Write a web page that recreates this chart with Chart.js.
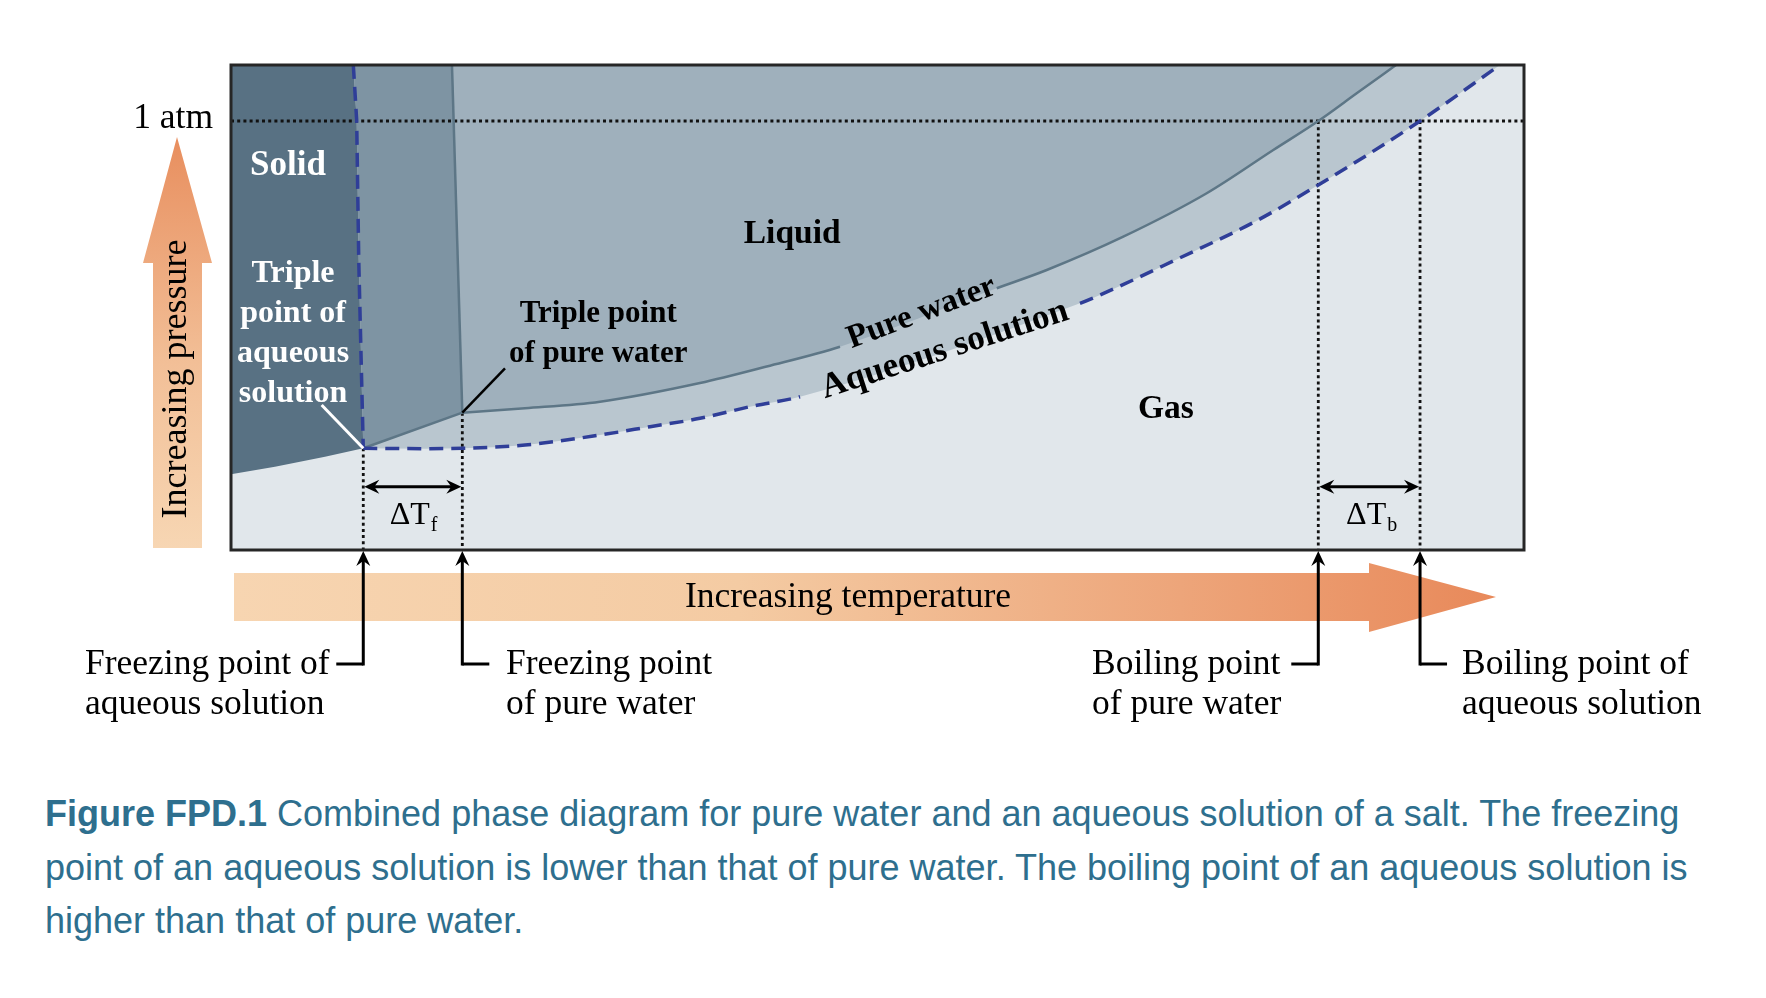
<!DOCTYPE html>
<html>
<head>
<meta charset="utf-8">
<title>Phase diagram - pure water vs aqueous solution</title>
<script src="https://cdn.jsdelivr.net/npm/chart.js@4/dist/chart.umd.min.js"></script>
<style>
    html, body { margin: 0; padding: 0; background: #fff; }
    #wrap { position: relative; width: 1766px; height: 998px; }
    #chartPhase { position: absolute; left: 0; top: 0; }
    #caption {
        position: absolute; left: 45px; top: 787px;
        font-family: "Liberation Sans", Arial, sans-serif;
        font-size: 36px; line-height: 53.5px; color: #2e6f8e;
        white-space: nowrap;
    }
</style>
</head>
<body>
<div id="wrap">
    <canvas id="chartPhase" width="1766" height="760"></canvas>
    <div id="caption"><b>Figure FPD.1</b> Combined phase diagram for pure water and an aqueous solution of a salt. The freezing<br>point of an aqueous solution is lower than that of pure water. The boiling point of an aqueous solution is<br>higher than that of pure water.</div>
</div>
<script>
// temperature and pressure are arbitrary units, the box runs 0..100 both ways
var oneAtm = 88.45;
var freezingPoints = [10.23, 17.89];   // aqueous solution, pure water
var boilingPoints = [84.09, 91.96];    // pure water, aqueous solution
var triplePressures = [20.97, 28.31];  // aqueous solution, pure water

// ice / vapour boundary up to the triple point of the solution
var solidEdgeT = [0, 3.4, 7.27, 10.23];
var solidEdgeP = [15.6, 17.18, 19.24, 20.97];

// solid / liquid boundaries
var aqFusionT = [9.46, 9.72, 9.88, 10.23];
var aqFusionP = [100, 88.66, 59.8, 20.97];
var pureFusionT = [17.09, 17.89];
var pureFusionP = [100, 28.31];

// liquid / vapour boundaries
var pureVapT = [17.89, 22.74, 28.54, 36.27, 41.43, 47.1, 59.22, 63.09, 69.01, 75.46, 80.61, 84.09, 87.06, 90.1];
var pureVapP = [28.31, 29.22, 30.58, 34.43, 37.84, 41.92, 53.96, 57.73, 64.6, 73.55, 82.47, 88.45, 94.16, 100];
var aqVapT = [10.23, 15.0, 17.89, 22.74, 28.54, 32.41, 36.27, 40.14, 44.01, 65.66, 67.21, 72.88, 79.33, 84.09, 87.96, 91.96, 98.14];
var aqVapP = [20.97, 20.9, 20.97, 21.65, 23.71, 25.42, 27.15, 29.55, 31.61, 50.87, 52.58, 59.6, 67.9, 75.26, 81.59, 88.45, 100];

// where the curve labels sit on the lines
var pureLabelGap = [47.1, 59.22];
var aqLabelGap = [44.01, 65.66];

var colSolid = '#587183';
var colMid = '#7e94a3';
var colLiquid = '#9fb0bc';
var colBand = '#b9c6cf';
var colGas = '#e1e7eb';
var colPure = '#5d7686';
var colAq = '#2f3e98';

function pts(xs, ys) {
    return xs.map(function (x, i) { return {x: x, y: ys[i]}; });
}

function gapSegment(gap, color) {
    return {
        borderColor: function (c) {
            return (c.p0.parsed.x === gap[0]) ? 'transparent' : color;
        }
    };
}

var aqFusionPts = pts(aqFusionT, aqFusionP);
var pureFusionPts = pts(pureFusionT, pureFusionP);
var solidEdgePts = pts(solidEdgeT, solidEdgeP);

var solidShape = [{x: 0, y: 100}].concat(aqFusionPts, solidEdgePts.slice(0, -1).reverse());
var midShape = aqFusionPts.concat(pureFusionPts.slice().reverse());
var liquidEdge = [pureFusionPts[0]].concat(pts(pureVapT, pureVapP));

function dotted(data) {
    return {
        data: data, borderColor: '#111', borderWidth: 2.8, borderDash: [3, 3.2],
        fill: false, tension: 0, order: 6
    };
}

var datasets = [
    {data: pts(aqVapT, aqVapP), fill: 'end', backgroundColor: colBand, borderWidth: 0,
        cubicInterpolationMode: 'monotone', order: 10},
    {data: liquidEdge, fill: 'end', backgroundColor: colLiquid, borderWidth: 0,
        cubicInterpolationMode: 'monotone', order: 9},
    {data: midShape, fill: 'shape', backgroundColor: colMid, borderWidth: 0, tension: 0, order: 8},
    {data: solidShape, fill: 'shape', backgroundColor: colSolid, borderWidth: 0, tension: 0, order: 7},

    dotted([{x: 0, y: oneAtm}, {x: 100, y: oneAtm}]),
    dotted([{x: freezingPoints[0], y: triplePressures[0]}, {x: freezingPoints[0], y: 0}]),
    dotted([{x: freezingPoints[1], y: triplePressures[1]}, {x: freezingPoints[1], y: 0}]),
    dotted([{x: boilingPoints[0], y: oneAtm}, {x: boilingPoints[0], y: 0}]),
    dotted([{x: boilingPoints[1], y: oneAtm}, {x: boilingPoints[1], y: 0}]),

    {data: [solidEdgePts[solidEdgePts.length - 1], pureFusionPts[1]], borderColor: colPure,
        borderWidth: 2.5, fill: false, tension: 0, order: 4},
    {data: pureFusionPts, borderColor: colPure, borderWidth: 2.5, fill: false, tension: 0, order: 4},
    {data: pts(pureVapT, pureVapP), borderColor: colPure, borderWidth: 2.5, fill: false,
        cubicInterpolationMode: 'monotone', segment: gapSegment(pureLabelGap, colPure), order: 4},
    {data: aqFusionPts, borderColor: colAq, borderWidth: 3.5, borderDash: [14, 8], fill: false,
        tension: 0, order: 3},
    {data: pts(aqVapT, aqVapP), borderColor: colAq, borderWidth: 3.5, borderDash: [14, 8], fill: false,
        cubicInterpolationMode: 'monotone', segment: gapSegment(aqLabelGap, colAq), order: 3}
];

var serif = "'Liberation Serif', 'Times New Roman', serif";

var diagramDecor = {
    id: 'diagramDecor',
    beforeDraw: function (chart) {
        var ctx = chart.ctx, a = chart.chartArea;
        ctx.save();
        ctx.fillStyle = colGas;
        ctx.fillRect(a.left, a.top, a.right - a.left, a.bottom - a.top);
        ctx.restore();
    },
    afterDraw: function (chart) {
        var ctx = chart.ctx, a = chart.chartArea;
        var xs = chart.scales.x, ys = chart.scales.y;
        function px(v) { return xs.getPixelForValue(v); }
        function py(v) { return ys.getPixelForValue(v); }

        function seg(x1, y1, x2, y2, w, col) {
            ctx.beginPath();
            ctx.moveTo(x1, y1);
            ctx.lineTo(x2, y2);
            ctx.lineWidth = w;
            ctx.strokeStyle = col;
            ctx.stroke();
        }
        function head(x, y, ang) {
            ctx.save();
            ctx.translate(x, y);
            ctx.rotate(ang);
            ctx.beginPath();
            ctx.moveTo(0, 0);
            ctx.lineTo(-15, -7);
            ctx.lineTo(-10, 0);
            ctx.lineTo(-15, 7);
            ctx.closePath();
            ctx.fillStyle = '#000';
            ctx.fill();
            ctx.restore();
        }
        function txt(s, x, y, size, weight, col, align) {
            ctx.font = weight + ' ' + size + 'px ' + serif;
            ctx.fillStyle = col;
            ctx.textAlign = align || 'center';
            ctx.fillText(s, x, y);
        }

        ctx.save();
        ctx.textBaseline = 'alphabetic';

        // leader lines to the triple points
        seg(px(7.01), py(29.9), px(freezingPoints[0]), py(triplePressures[0]), 3, '#fff');
        seg(px(21.19), py(37.46), px(freezingPoints[1]), py(triplePressures[1]), 2.5, '#000');

        // region labels
        txt('Solid', px(4.41), py(79.8) + 12, 35, 'bold', '#fff');
        var aqTriple = ['Triple', 'point of', 'aqueous', 'solution'];
        var aqTripleY = [57.1, 48.9, 40.6, 32.4];
        aqTriple.forEach(function (s, i) {
            txt(s, px(4.8), py(aqTripleY[i]) + 9, 32, 'bold', '#fff');
        });
        txt('Liquid', px(43.4), py(65.6) + 11, 33.5, 'bold', '#000');
        txt('Triple point', px(28.4), py(49.1) + 10, 31, 'bold', '#000');
        txt('of pure water', px(28.4), py(40.9) + 10, 31, 'bold', '#000');
        txt('Gas', px(72.3), py(29.5) + 11, 33.5, 'bold', '#000');

        // labels along the two curves
        ctx.save();
        ctx.translate(px(47.99), py(41.59));
        ctx.rotate(-20.6 * Math.PI / 180);
        txt('Pure water', 0, 0, 33, 'bold', '#000', 'left');
        ctx.restore();
        ctx.save();
        ctx.translate(px(45.94), py(31.28));
        ctx.rotate(-17.9 * Math.PI / 180);
        txt('Aqueous solution', 0, 0, 35, 'bold', '#000', 'left');
        ctx.restore();

        // delta T arrows
        var yArr = py(13.05);
        [[freezingPoints[0], freezingPoints[1], 'f'], [boilingPoints[0], boilingPoints[1], 'b']].forEach(function (d) {
            var x1 = px(d[0]), x2 = px(d[1]);
            seg(x1 + 6, yArr, x2 - 6, yArr, 3, '#000');
            head(x1 + 1, yArr, Math.PI);
            head(x2 - 1, yArr, 0);
            var cx = (x1 + x2) / 2 + 2;
            ctx.font = '32px ' + serif;
            var w = ctx.measureText('\u0394T').width;
            txt('\u0394T', cx - 5 - w / 2, 524, 32, 'normal', '#000', 'left');
            txt(d[2], cx - 5 + w / 2 + 1, 531, 20, 'normal', '#000', 'left');
        });

        // frame
        ctx.lineWidth = 3;
        ctx.strokeStyle = '#262626';
        ctx.strokeRect(a.left, a.top, a.right - a.left, a.bottom - a.top);

        // 1 atm
        txt('1 atm', a.left - 18, py(oneAtm) + 7, 35.5, 'normal', '#000', 'right');

        // pressure arrow
        var gp = ctx.createLinearGradient(0, 548, 0, 137);
        gp.addColorStop(0, '#f7d6b3');
        gp.addColorStop(0.45, '#f2bf97');
        gp.addColorStop(1, '#e88e5e');
        ctx.beginPath();
        ctx.moveTo(153, 548);
        ctx.lineTo(153, 263);
        ctx.lineTo(143, 263);
        ctx.lineTo(177, 137);
        ctx.lineTo(212, 263);
        ctx.lineTo(202, 263);
        ctx.lineTo(202, 548);
        ctx.closePath();
        ctx.fillStyle = gp;
        ctx.fill();
        ctx.save();
        ctx.translate(177, 379);
        ctx.rotate(-Math.PI / 2);
        ctx.textBaseline = 'middle';
        txt('Increasing pressure', 0, 0, 36, 'normal', '#000');
        ctx.restore();

        // temperature arrow
        var gt = ctx.createLinearGradient(234, 0, 1496, 0);
        gt.addColorStop(0, '#f7d5b1');
        gt.addColorStop(0.4, '#f4cba3');
        gt.addColorStop(0.75, '#eda57a');
        gt.addColorStop(1, '#e8895a');
        ctx.beginPath();
        ctx.moveTo(234, 573);
        ctx.lineTo(1369, 573);
        ctx.lineTo(1369, 563);
        ctx.lineTo(1496, 597);
        ctx.lineTo(1369, 632);
        ctx.lineTo(1369, 621);
        ctx.lineTo(234, 621);
        ctx.closePath();
        ctx.fillStyle = gt;
        ctx.fill();
        ctx.textBaseline = 'middle';
        txt('Increasing temperature', 848, 598, 35.5, 'normal', '#000');
        ctx.textBaseline = 'alphabetic';

        // arrows pointing at the four temperatures
        var yTick = 664;
        var marks = [
            {t: freezingPoints[0], dir: -1, lx: 85, lines: ['Freezing point of', 'aqueous solution']},
            {t: freezingPoints[1], dir: 1, lx: 506, lines: ['Freezing point', 'of pure water']},
            {t: boilingPoints[0], dir: -1, lx: 1092, lines: ['Boiling point', 'of pure water']},
            {t: boilingPoints[1], dir: 1, lx: 1462, lines: ['Boiling point of', 'aqueous solution']}
        ];
        marks.forEach(function (m) {
            var x = px(m.t);
            seg(x, yTick + 1.5, x, a.bottom + 10, 3, '#000');
            head(x, a.bottom + 1, -Math.PI / 2);
            seg(x, yTick, x + m.dir * 27, yTick, 3, '#000');
            txt(m.lines[0], m.lx, 674, 35.5, 'normal', '#000', 'left');
            txt(m.lines[1], m.lx, 714, 35.5, 'normal', '#000', 'left');
        });

        ctx.restore();
    }
};

var chartPhase = new Chart(document.getElementById('chartPhase'), {
    type: 'line',
    data: {datasets: datasets},
    options: {
        responsive: false,
        animation: false,
        devicePixelRatio: 1,
        layout: {padding: {left: 231, top: 65, right: 242, bottom: 210}},
        elements: {point: {radius: 0, hoverRadius: 0}},
        scales: {
            x: {type: 'linear', min: 0, max: 100, display: false},
            y: {type: 'linear', min: 0, max: 100, display: false}
        },
        plugins: {legend: {display: false}, tooltip: {enabled: false}}
    },
    plugins: [diagramDecor]
});
</script>
</body>
</html>
